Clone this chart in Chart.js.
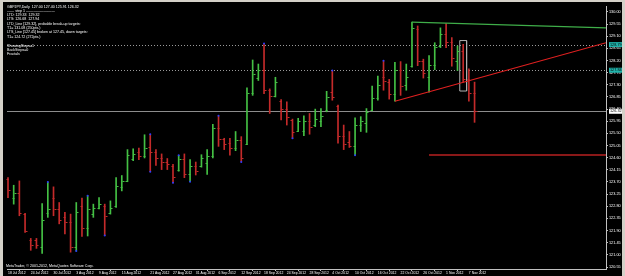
<html><head>
<style>
  body { margin: 0; background: #d4d0c8; }
  #wrap { position: absolute; left: 3px; top: 2px; width: 619px; height: 274px; background: #000; }
</style>
<script src="https://cdn.jsdelivr.net/npm/chart.js"></script>
</head>
<body>
<div id="wrap"><canvas id="chart" width="619" height="274"></canvas></div>
<script>
// GBPJPY daily bars (oldest first)
const opens  = [123.80,123.10,123.30,122.50,121.55,121.55,121.30,122.55,123.10,122.70,122.40,122.20,121.30,122.80,122.00,122.50,122.75,122.80,122.55,122.80,
                123.50,123.75,124.55,124.80,124.65,125.00,124.80,124.60,124.45,124.30,124.15,124.55,124.00,124.30,124.30,124.40,124.65,125.70,125.30,125.15,
                124.95,125.25,125.10,127.00,127.55,127.85,127.10,126.90,126.70,126.40,126.00,125.60,125.60,125.95,125.80,125.95,126.35,127.05,126.50,125.40,
                125.20,125.05,125.80,125.90,126.35,126.80,127.60,127.40,126.95,127.85,127.30,128.00,129.35,128.20,127.60,128.05,128.75,129.20,128.90,128.20,
                128.55,127.50,127.00];
const highs  = [123.86,123.58,123.74,122.54,121.61,121.61,122.90,123.70,123.52,122.94,122.58,122.51,122.94,123.10,123.19,122.88,123.12,122.88,123.00,123.86,
                123.94,124.90,124.93,124.96,125.45,125.47,124.90,124.74,124.57,124.35,124.69,124.74,124.53,124.44,124.71,124.90,125.84,126.15,125.32,125.32,
                125.57,125.38,127.19,128.22,128.07,128.83,127.15,127.58,126.75,126.67,126.03,126.06,126.15,126.24,126.40,126.42,127.06,127.83,126.55,125.81,
                125.57,126.08,126.12,126.42,127.25,127.62,128.19,127.50,128.13,128.16,128.07,129.62,129.48,128.25,128.38,128.86,129.41,129.57,129.05,128.74,
                128.80,127.89,127.40];
const lows   = [123.12,122.88,122.45,121.83,121.17,121.24,121.05,122.39,122.45,122.15,121.78,121.10,121.14,121.68,121.70,122.39,122.70,121.72,122.51,122.76,
                123.37,123.71,124.49,124.53,124.59,124.08,124.31,124.16,124.16,123.67,124.10,123.86,123.71,123.96,124.25,123.98,124.59,125.02,124.90,124.69,
                124.86,124.44,125.08,126.91,127.46,126.97,126.24,126.85,126.00,125.81,125.32,125.57,125.42,125.47,125.75,125.75,126.30,126.73,125.14,124.90,
                124.98,124.69,125.57,125.54,126.33,126.73,127.10,126.77,126.69,126.91,127.10,127.95,128.01,127.55,127.03,127.86,128.68,128.68,127.99,127.83,
                127.40,126.69,125.91];
const closes = [123.40,123.30,122.55,121.90,121.35,121.35,122.30,122.70,122.70,122.30,122.20,121.30,122.60,122.00,122.70,122.75,122.90,122.45,122.75,123.55,
                123.75,124.70,124.75,124.65,124.95,124.80,124.60,124.45,124.35,123.90,124.55,124.00,124.30,124.10,124.60,124.65,125.70,125.30,125.10,124.95,
                125.25,124.60,127.00,127.70,127.85,127.10,126.90,127.40,126.40,126.10,125.55,125.95,125.95,125.75,126.05,126.15,126.85,126.85,125.40,125.10,
                125.05,125.80,125.95,126.30,126.80,127.30,127.45,126.95,127.85,127.25,127.60,129.40,128.20,127.75,128.05,128.70,129.20,128.90,128.30,128.55,
                127.50,127.00,126.32];

// fractal marks (bar numbers)
const fractalHighs = [7, 14, 25, 30, 37, 45, 57, 66];
const fractalLows  = [12, 17, 25, 29, 32, 41, 50, 61];

const dateIdx    = [0,4,8,12,16,20,25,29,33,37,41,45,49,53,57,61,65,69,73,77,81];
const dateLabels = ['18 Jul 2012','24 Jul 2012','30 Jul 2012','3 Aug 2012','9 Aug 2012','15 Aug 2012','21 Aug 2012','27 Aug 2012',
                    '31 Aug 2012','6 Sep 2012','12 Sep 2012','18 Sep 2012','24 Sep 2012','28 Sep 2012','4 Oct 2012','10 Oct 2012',
                    '16 Oct 2012','22 Oct 2012','26 Oct 2012','1 Nov 2012','7 Nov 2012'];
const yTicks = [120.55,121.00,121.45,121.90,122.35,122.80,123.25,123.70,124.15,124.60,125.05,125.50,125.95,126.40,126.85,127.30,
                127.75,128.20,128.65,129.10,129.55,130.00];

// objects on the chart
const bidPrice = 126.32;
const levels   = [128.79, 127.84];          // dotted step levels
const ltdLine  = [[71, 129.62], [105.1, 129.41]];
const ltsLine  = [[68, 126.69], [105.1, 128.86]];
const target   = [[74, 124.70], [105.1, 124.70]];
const boxPts   = [[79.4, 128.94], [80.6, 128.94], [80.6, 127.07], [79.4, 127.07], [79.4, 128.94]];

const headerLines = [
  'GBPJPY,Daily  127.00 127.40 125.91 126.32',
  '\u2014\u2014 step 1 \u2014\u2014\u2014\u2014\u2014\u2014\u2014\u2014',
  'LTD: 129.33  129.32',
  'LTS: 126.68  127.94',
  'LTD_Line [129.32], probable break-up targets:',
  'T1= 131.08 (250pts.)',
  'LTS_Line [127.45] broken at 127.45, down targets:',
  'T1= 124.72 (272pts.)'
];
const infoLines = ['ShowingSteps=1', 'BackSteps=0', 'Fractals'];

const GREEN = '#44c044', RED = '#c42a2a';
const up = closes.map((c, i) => c >= opens[i]);
const barColors = up.map(u => u ? GREEN : RED);
const FONT = '"Liberation Sans", Arial, sans-serif';

const pts = a => a.map(p => ({x: p[0], y: p[1]}));

const drawExtras = {
  id: 'drawExtras',
  beforeDatasetsDraw(chart) {
    const ctx = chart.ctx, a = chart.chartArea, y = chart.scales.y;
    ctx.save();
    ctx.strokeStyle = '#9a9a9a';
    ctx.lineWidth = 1;
    ctx.setLineDash([1, 2]);
    levels.forEach(l => {
      const py = Math.round(y.getPixelForValue(l)) + 0.5;
      ctx.beginPath(); ctx.moveTo(a.left, py); ctx.lineTo(a.right, py); ctx.stroke();
    });
    ctx.setLineDash([]);
    ctx.strokeStyle = '#8c8c8c';
    const by = Math.round(y.getPixelForValue(bidPrice)) + 0.5;
    ctx.beginPath(); ctx.moveTo(a.left, by); ctx.lineTo(a.right, by); ctx.stroke();
    ctx.restore();
  },
  afterDatasetsDraw(chart) {
    const ctx = chart.ctx, x = chart.scales.x, y = chart.scales.y, a = chart.chartArea;
    ctx.save();
    ctx.lineWidth = 1;
    opens.forEach((o, i) => {
      const px = Math.round(x.getPixelForValue(i)) + 0.5;
      const po = Math.round(y.getPixelForValue(o)) + 0.5;
      const pc = Math.round(y.getPixelForValue(closes[i])) + 0.5;
      ctx.strokeStyle = barColors[i];
      ctx.beginPath();
      ctx.moveTo(px - 2, po); ctx.lineTo(px, po);
      ctx.moveTo(px, pc); ctx.lineTo(px + 2, pc);
      ctx.stroke();
    });
    // text
    ctx.fillStyle = '#fff';
    ctx.font = '3.6px ' + FONT;
    ctx.textBaseline = 'middle';
    ctx.textAlign = 'left';
    headerLines.forEach((t, i) => ctx.fillText(t, 4, 4.5 + i * 4.3));
    infoLines.forEach((t, i) => ctx.fillText(t, 4, 43.5 + i * 4.1));
    ctx.fillText('MetaTrader, \u00a9 2001-2012, MetaQuotes Software Corp.', 3, a.bottom - 3);
    // axis price boxes
    ctx.font = '3.8px ' + FONT;
    const box = (v, bg, fg) => {
      const py = y.getPixelForValue(v);
      ctx.fillStyle = bg;
      ctx.fillRect(a.right + 3, py - 2.5, 13, 5);
      ctx.fillStyle = fg;
      ctx.fillText(v.toFixed(2), a.right + 4, py);
    };
    levels.forEach(l => box(l, '#20b2aa', '#000'));
    box(bidPrice, '#ffffff', '#000');
    ctx.restore();
  }
};

new Chart(document.getElementById('chart'), {
  type: 'bar',
  data: {
    datasets: [
      { type: 'bar', data: highs.map((h, i) => ({x: i, y: [lows[i], h]})),
        backgroundColor: barColors, borderWidth: 0, barThickness: 1, grouped: false, order: 5 },
      { type: 'scatter', data: fractalHighs.map(i => ({x: i, y: highs[i]})).concat(fractalLows.map(i => ({x: i, y: lows[i]}))),
        backgroundColor: '#2a3cff', borderWidth: 0, pointRadius: 1, order: 0 },
      { type: 'line', data: pts(ltdLine), borderColor: '#3fae49', borderWidth: 1.2, pointRadius: 0 },
      { type: 'line', data: pts(ltsLine), borderColor: '#e02020', borderWidth: 1.2, pointRadius: 0 },
      { type: 'line', data: pts(target), borderColor: '#b82020', borderWidth: 1.5, pointRadius: 0 },
      { type: 'line', data: pts(boxPts), borderColor: '#b0b0b0', borderWidth: 1, pointRadius: 0, tension: 0 }
    ]
  },
  options: {
    responsive: false,
    animation: false,
    events: [],
    layout: { padding: { left: 1, top: 1, right: 0, bottom: 0 } },
    plugins: { legend: { display: false }, tooltip: { enabled: false } },
    scales: {
      x: {
        type: 'linear', min: -0.175, max: 105.1, offset: false,
        afterFit: s => { s.height = 7; },
        afterBuildTicks: s => { s.ticks = dateIdx.map(v => ({value: v})); },
        grid: { drawOnChartArea: false, color: '#c0c0c0', tickLength: 2 },
        border: { color: '#c0c0c0' },
        ticks: {
          color: '#fff', font: { size: 3.4, family: FONT }, padding: 0, maxRotation: 0, autoSkip: false, align: 'start',
          callback: v => dateLabels[dateIdx.indexOf(v)]
        }
      },
      y: {
        position: 'right', min: 120.477, max: 130.22,
        afterFit: s => { s.width = 16; },
        afterBuildTicks: s => { s.ticks = yTicks.map(v => ({value: v})); },
        grid: { drawOnChartArea: false, color: '#c0c0c0', tickLength: 2 },
        border: { color: '#c0c0c0' },
        ticks: { color: '#fff', font: { size: 3.8, family: FONT }, padding: 1, callback: v => v.toFixed(2) }
      }
    }
  },
  plugins: [drawExtras]
});
</script>
</body></html>
